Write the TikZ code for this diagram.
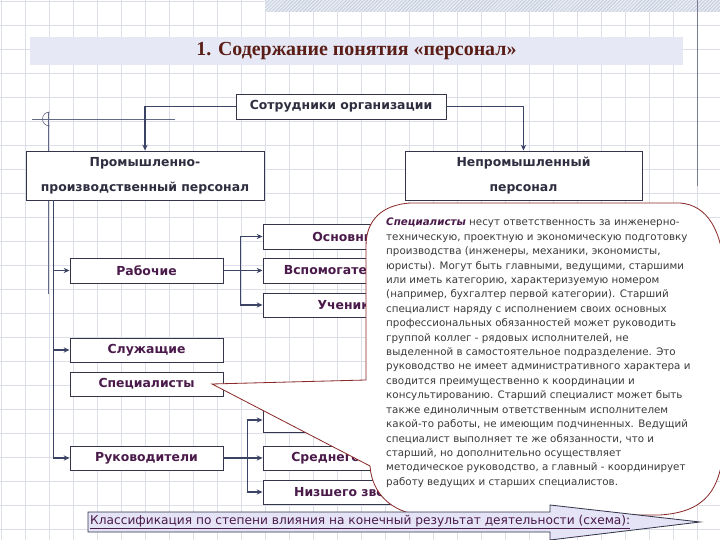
\documentclass[tikz,border=0pt]{standalone}
\usepackage{fontspec}
\setmainfont{DejaVu Sans}
\newfontfamily\titlefont{Liberation Serif}
\usetikzlibrary{arrows.meta,calc,patterns}
\definecolor{gridc}{HTML}{DCDEE8}
\definecolor{hatchc}{HTML}{B8C2D8}
\definecolor{bandc}{HTML}{E6E8F6}
\definecolor{titlec}{HTML}{5A1E16}
\definecolor{boxc}{HTML}{34344A}
\definecolor{topc}{HTML}{2E2E40}
\definecolor{lowc}{HTML}{4A1A4A}
\definecolor{connc}{HTML}{3C4466}
\definecolor{calloutc}{HTML}{8A2A2A}
\definecolor{notec}{HTML}{3A3A3A}
\definecolor{arrc}{HTML}{E4E4F6}

\tikzset{
  box/.style={draw=boxc, fill=white, line width=.8pt, inner sep=0, minimum height=.75cm, font=\bfseries\fontsize{10.6}{12}\selectfont},
  conn/.style={draw=connc, line width=1pt},
  tip/.style={-{Stealth[length=5pt,width=4.5pt]}},
}

\begin{document}
\begin{tikzpicture}[x=.03cm, y=-.03cm]
\useasboundingbox (0,0) rectangle (720,540);

% background
\foreach \gx in {1,25,...,720} \draw[gridc, line width=.4pt] (\gx,0) -- (\gx,540);
\foreach \gy in {1,25,...,540} \draw[gridc, line width=.4pt] (0,\gy) -- (720,\gy);
\fill[hatchc!35] (265,0) rectangle (720,12);
\fill[pattern=north east lines, pattern color=hatchc] (265,0) rectangle (720,12);
\draw[connc!70, line width=.6pt] (697,0) -- (697,186);
\draw[connc!80, line width=.6pt] (32,119) -- (175,119);
\draw[connc!80, line width=.6pt] (48,112) -- (48,294);
\draw[connc!80, line width=.5pt] (50,112) .. controls (40,112) and (40,126) .. (50,126);

\node[fill=bandc, minimum width=19.59cm, minimum height=.84cm, inner sep=0] (band) at (356.5,51) {};
\node[font=\titlefont\bfseries\fontsize{17}{20}\selectfont, text=titlec] (title) at (band) {1. Содержание понятия «персонал»};

\node[box, text=topc, minimum width=6.3cm] (sotr) at (341,106.5) {Сотрудники организации};
\node[box, text=topc, minimum width=7.14cm, minimum height=1.47cm, align=center] (prom) at (145,175.5) {Промышленно-\\[9pt]производственный персонал};
\node[box, text=topc, minimum width=7.11cm, minimum height=1.47cm, align=center] (neprom) at (523.5,175.5) {Непромышленный\\[9pt]персонал};

\draw[conn, tip] (sotr.west) -| (prom.north);
\draw[conn, tip] (sotr.east) -| (neprom.north);

\node[box, text=lowc, minimum width=4.59cm] (rab) at (146.5,270.5) {Рабочие};
\node[box, text=lowc, minimum width=4.59cm, minimum height=.72cm] (sluzh) at (146.5,350) {Служащие};
\node[box, text=lowc, minimum width=4.59cm, minimum height=.72cm] (spec) at (146.5,384) {Специалисты};
\node[box, text=lowc, minimum width=4.59cm, minimum height=.72cm] (ruk) at (146.5,458) {Руководители};

\node[box, text=lowc, minimum width=5.1cm] (osn) at (348,236.5) {Основные};
\node[box, text=lowc, minimum width=5.1cm] (vspom) at (348,270.5) {Вспомогательные};
\node[box, text=lowc, minimum width=5.1cm, minimum height=.72cm] (uchen) at (348,305) {Ученики};
\node[box, text=lowc, minimum width=5.1cm, minimum height=.72cm] (vyssh) at (348,420) {Высшего звена};
\node[box, text=lowc, minimum width=5.1cm, minimum height=.72cm] (sred) at (348,458) {Среднего звена};
\node[box, text=lowc, minimum width=5.1cm, minimum height=.72cm] (nizh) at (348,492) {Низшего звена};

\coordinate (trunk) at ($(prom.south west)+(28,0)$);
\draw[conn, tip] (trunk) |- (ruk.west);
\draw[conn, tip] (trunk |- rab.west) -- (rab.west);
\draw[conn, tip] (trunk |- sluzh.west) -- (sluzh.west);

\coordinate (rj) at ($(rab.east)+(17,0)$);
\draw[conn, tip] (rab.east) -- (vspom.west);
\draw[conn, tip] (rj) |- (osn.west);
\draw[conn, tip] (rj) |- (uchen.west);

\coordinate (kj) at ($(ruk.east)+(24,0)$);
\draw[conn, tip] (ruk.east) -- (sred.west);
\draw[conn, tip] (kj) |- (vyssh.west);
\draw[conn, tip] (kj) |- (nizh.west);

% callout
\draw[calloutc, fill=white, line width=.7pt] (366,380) -- (366,246) .. controls (366,220) and (382,205) .. (410,203)
  -- (680,203) .. controls (708,205) and (722,232) .. (724,270) -- (724,440)
  .. controls (722,492) and (704,512) .. (660,515) -- (420,515)
  .. controls (392,512) and (372,494) .. (370,466) -- (212,384) -- cycle;
\node[anchor=north west, inner sep=0, align=left, text=notec, font=\fontsize{8.8}{12.3}\selectfont] (note) at (386,218)
{{\bfseries\itshape\color{lowc}Специалисты} несут ответственность за инженерно-\\
техническую, проектную и экономическую подготовку\\
производства (инженеры, механики, экономисты,\\
юристы). Могут быть главными, ведущими, старшими\\
или иметь категорию, характеризуемую номером\\
(например, бухгалтер первой категории). Старший\\
специалист наряду с исполнением своих основных\\
профессиональных обязанностей может руководить\\
группой коллег - рядовых исполнителей, не\\
выделенной в самостоятельное подразделение. Это\\
руководство не имеет административного характера и\\
сводится преимущественно к координации и\\
консультированию. Старший специалист может быть\\
также единоличным ответственным исполнителем\\
какой-то работы, не имеющим подчиненных. Ведущий\\
специалист выполняет те же обязанности, что и\\
старший, но дополнительно осуществляет\\
методическое руководство, а главный - координирует\\
работу ведущих и старших специалистов.};

% bottom arrow
\draw[boxc, fill=arrc, line width=.7pt] (88,512) -- (550,512) -- (550,505) -- (700,522) -- (550,540) -- (550,532) -- (88,532) -- cycle;
\node[anchor=west, inner sep=0, text=lowc, font=\fontsize{10.4}{12}\selectfont] (klass) at (90,522) {\underline{Классификация по степени влияния на конечный результат деятельности (схема):}};

\end{tikzpicture}
\end{document}
